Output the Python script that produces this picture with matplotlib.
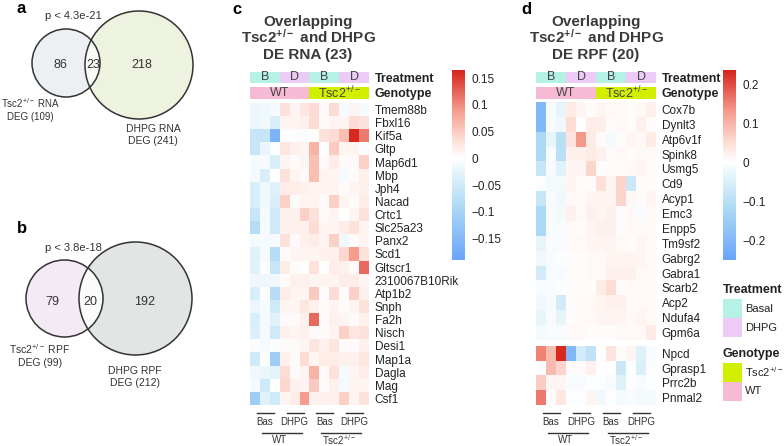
import numpy as np
import matplotlib
matplotlib.use('Agg')
import matplotlib.pyplot as plt
from matplotlib.colors import LinearSegmentedColormap, ListedColormap, Normalize
from matplotlib.patches import Circle, Rectangle

plt.rcParams['font.family'] = ['Liberation Sans', 'DejaVu Sans']
plt.rcParams['mathtext.fontset'] = 'custom'
plt.rcParams['mathtext.rm'] = 'Liberation Sans'
plt.rcParams['mathtext.it'] = 'Liberation Sans:italic'
plt.rcParams['mathtext.bf'] = 'Liberation Sans:bold'

# ---- data ----
venn_a = {'left': 86, 'both': 23, 'right': 218, 'p': 'p < 4.3e-21',
          'lab_l': 'Tsc2$^{+/-}$ RNA\nDEG (109)', 'lab_r': 'DHPG RNA\nDEG (241)'}
venn_b = {'left': 79, 'both': 20, 'right': 192, 'p': 'p < 3.8e-18',
          'lab_l': 'Tsc2$^{+/-}$ RPF\nDEG (99)', 'lab_r': 'DHPG RPF\nDEG (212)'}

genes_c = ['Tmem88b', 'Fbxl16', 'Kif5a', 'Gltp', 'Map6d1', 'Mbp', 'Jph4', 'Nacad',
           'Crtc1', 'Slc25a23', 'Panx2', 'Scd1', 'Gltscr1', '2310067B10Rik', 'Atp1b2',
           'Snph', 'Fa2h', 'Nisch', 'Desi1', 'Map1a', 'Dagla', 'Mag', 'Csf1']
rna_c = np.array([
    [-0.02, -0.015, -0.01, 0.03, 0.01, 0.025, 0.035, 0.005, 0.035, -0.01, 0.01, -0.01],
    [-0.02, -0.015, -0.04, 0.01, 0.01, 0.015, 0.035, 0.005, 0.01, 0.01, 0.035, 0.03],
    [-0.06, -0.06, -0.16, -0.005, -0.005, -0.005, 0.0, 0.03, 0.035, 0.06, 0.16, 0.11],
    [-0.06, -0.02, 0.0, 0.025, 0.015, 0.01, 0.07, 0.0, 0.05, 0.01, 0.01, -0.005],
    [-0.01, -0.01, -0.04, 0.01, 0.005, 0.01, 0.06, 0.005, 0.02, 0.005, 0.005, 0.045],
    [-0.01, -0.04, 0.0, 0.03, 0.01, 0.005, 0.06, 0.01, 0.01, -0.01, 0.005, 0.015],
    [-0.04, -0.015, -0.03, 0.02, 0.02, 0.015, 0.01, 0.01, 0.01, 0.005, 0.01, 0.015],
    [-0.04, -0.015, -0.04, 0.045, 0.005, 0.01, 0.01, 0.005, 0.045, 0.01, 0.005, 0.02],
    [-0.06, -0.01, -0.05, 0.015, 0.015, 0.045, 0.03, 0.005, 0.01, 0.0, 0.01, 0.03],
    [-0.08, -0.01, -0.05, 0.015, 0.015, 0.015, 0.035, 0.01, 0.01, 0.02, 0.03, 0.01],
    [-0.01, -0.01, -0.01, 0.03, 0.005, 0.015, 0.02, 0.01, 0.045, -0.015, 0.005, 0.01],
    [-0.03, -0.01, -0.08, 0.005, 0.01, 0.01, 0.01, 0.015, 0.015, 0.04, 0.09, 0.03],
    [-0.03, -0.005, -0.06, 0.02, 0.005, 0.0, 0.03, 0.0, 0.02, 0.015, 0.005, 0.12],
    [-0.015, -0.015, -0.015, 0.005, 0.015, 0.015, 0.01, 0.01, 0.01, 0.02, 0.02, 0.01],
    [-0.04, -0.005, -0.08, 0.02, 0.01, 0.01, 0.05, -0.005, 0.035, 0.005, 0.045, 0.015],
    [-0.02, -0.01, -0.05, 0.01, 0.01, 0.025, 0.015, 0.005, 0.01, 0.005, 0.01, 0.03],
    [-0.04, -0.01, -0.03, 0.005, 0.005, 0.015, 0.12, 0.005, 0.015, 0.01, 0.005, 0.015],
    [-0.035, -0.01, -0.05, 0.015, 0.01, 0.015, 0.005, 0.005, 0.01, 0.045, 0.025, 0.03],
    [-0.005, -0.01, -0.005, 0.005, 0.005, 0.01, 0.025, 0.015, 0.025, 0.005, 0.005, 0.015],
    [-0.05, -0.005, -0.11, 0.015, 0.005, 0.035, 0.01, 0.02, 0.02, 0.015, 0.015, 0.025],
    [-0.015, -0.02, -0.025, 0.035, 0.005, 0.01, 0.07, 0.005, 0.03, -0.01, 0.01, 0.02],
    [-0.01, -0.05, 0.0, 0.04, 0.015, 0.01, 0.05, 0.005, 0.015, -0.01, 0.01, 0.01],
    [-0.11, -0.03, -0.05, 0.01, 0.02, 0.09, 0.015, 0.015, 0.015, 0.045, 0.01, 0.03],
])

genes_d_top = ['Cox7b', 'Dynlt3', 'Atp6v1f', 'Spink8', 'Usmg5', 'Cd9', 'Acyp1', 'Emc3',
               'Enpp5', 'Tm9sf2', 'Gabrg2', 'Gabra1', 'Scarb2', 'Acp2', 'Ndufa4', 'Gpm6a']
genes_d_bot = ['Npcd', 'Gprasp1', 'Prrc2b', 'Pnmal2']
rpf_d_top = np.array([
    [-0.2, -0.01, -0.03, 0.03, 0.015, 0.005, 0.015, 0.01, 0.01, 0.005, 0.01, 0.02],
    [-0.2, -0.01, -0.02, 0.05, 0.0, 0.025, 0.025, 0.005, 0.01, 0.005, 0.02, 0.005],
    [-0.12, -0.03, -0.1, 0.04, 0.13, 0.03, 0.005, -0.015, 0.005, 0.015, 0.01, 0.03],
    [-0.12, -0.01, -0.1, 0.02, 0.02, 0.03, 0.02, 0.005, 0.01, 0.005, 0.01, 0.01],
    [-0.08, -0.01, -0.04, 0.015, 0.015, 0.06, 0.005, 0.005, 0.005, 0.01, 0.015, 0.005],
    [-0.005, -0.015, -0.015, 0.015, 0.005, 0.005, 0.045, 0.015, 0.06, -0.07, 0.005, 0.005],
    [-0.08, -0.01, -0.02, 0.01, 0.01, 0.015, 0.015, 0.015, 0.06, 0.01, 0.005, 0.015],
    [-0.12, -0.01, -0.015, 0.02, 0.01, 0.02, 0.015, 0.02, 0.005, 0.01, -0.01, 0.01],
    [-0.12, -0.01, -0.01, 0.01, 0.005, 0.015, 0.02, 0.02, 0.005, 0.01, 0.01, 0.01],
    [-0.03, -0.01, -0.01, 0.01, 0.01, 0.015, 0.015, 0.015, 0.01, 0.005, 0.015, 0.01],
    [-0.02, -0.01, -0.005, 0.005, 0.005, 0.01, 0.01, 0.015, 0.015, 0.015, 0.015, 0.01],
    [-0.06, -0.01, -0.01, 0.005, 0.005, 0.01, 0.01, 0.02, 0.02, 0.02, 0.01, 0.01],
    [-0.01, -0.01, -0.005, 0.005, 0.005, 0.005, 0.03, 0.05, 0.005, 0.01, 0.01, 0.01],
    [-0.02, -0.01, -0.06, 0.005, 0.01, 0.01, 0.015, 0.02, 0.02, 0.01, 0.01, 0.01],
    [-0.03, -0.01, -0.03, 0.005, 0.01, 0.01, 0.015, 0.015, 0.015, 0.01, 0.015, 0.01],
    [-0.015, -0.01, -0.01, 0.01, 0.01, 0.005, 0.005, 0.005, 0.01, 0.01, 0.01, 0.03],
])
rpf_d_bot = np.array([
    [0.15, 0.09, 0.23, -0.2, -0.06, -0.09, 0.0, 0.04, 0.005, 0.015, -0.04, -0.01],
    [0.0, 0.09, 0.06, 0.005, 0.005, 0.02, 0.0, 0.0, -0.07, -0.005, -0.05, -0.005],
    [0.07, 0.015, 0.015, -0.01, -0.01, -0.005, -0.005, -0.01, -0.04, -0.005, -0.01, -0.005],
    [0.16, 0.005, 0.035, -0.005, -0.005, 0.015, -0.02, -0.005, -0.015, -0.01, -0.015, -0.015],
])

treat_idx = [0, 0, 0, 1, 1, 1, 0, 0, 0, 1, 1, 1]   # 0 Basal, 1 DHPG
geno_idx = [1, 1, 1, 1, 1, 1, 0, 0, 0, 0, 0, 0]    # 0 Tsc2, 1 WT
treat_letters = ['B', 'D', 'B', 'D']
treat_names = ['Basal', 'DHPG']
geno_names = ['Tsc2$^{+/-}$', 'WT']
c_ticks = [-0.15, -0.1, -0.05, 0, 0.05, 0.1, 0.15]
d_ticks = [-0.2, -0.1, 0, 0.1, 0.2]

col_basal, col_dhpg = '#b6f1e6', '#ecccf6'
col_tsc2, col_wt = '#d2ef00', '#f7bad4'
dark = '#333333'
txt = '#222222'

W, H = 784, 446
fig = plt.figure(figsize=(7.84, 4.46), dpi=100)


def box(x0, y0, x1, y1):
    return [x0 / W, 1 - y1 / H, (x1 - x0) / W, (y1 - y0) / H]


def make_cmap(vmin, vmax):
    mid = -vmin / (vmax - vmin)
    stops = [(0, '#6aa4fb'), (mid * 0.5, '#a9d7f4'), (mid * 0.85, '#e2f3fa'), (mid, '#ffffff'),
             (mid + (1 - mid) * 0.2, '#fde0d8'), (mid + (1 - mid) * 0.55, '#f59b8c'),
             (1, '#d6231a')]
    return LinearSegmentedColormap.from_list('bwr_', stops)


ov = fig.add_axes([0, 0, 1, 1])
ov.set_xlim(0, W)
ov.set_ylim(H, 0)
ov.axis('off')


# ---- venn ----
def venn(cl, rl, cr, rr, fl, fr, fi):
    ov.add_patch(Circle(cl, rl, facecolor=fl, edgecolor='none'))
    c2 = Circle(cr, rr, facecolor=fr, edgecolor='none')
    ov.add_patch(c2)
    ci = Circle(cl, rl, facecolor=fi, edgecolor='none')
    ov.add_patch(ci)
    ci.set_clip_path(c2)
    ov.add_patch(Circle(cl, rl, facecolor='none', edgecolor=dark, lw=1.1))
    ov.add_patch(Circle(cr, rr, facecolor='none', edgecolor=dark, lw=1.1))


venn((66, 63), 34, (139, 65), 54, '#edf0f2', '#eef3e0', '#f9faf7')
ov.text(60, 65, str(venn_a['left']), ha='center', va='center', fontsize=9, color=dark)
ov.text(93.5, 65, str(venn_a['both']), ha='center', va='center', fontsize=9, color=dark)
ov.text(142, 65, str(venn_a['right']), ha='center', va='center', fontsize=9, color=dark)
ov.text(73, 16, venn_a['p'], ha='center', va='center', fontsize=8, color=dark)
ov.text(30, 109, venn_a['lab_l'], ha='center', va='center', fontsize=7, color=dark, linespacing=1.35)
ov.text(153, 135, venn_a['lab_r'], ha='center', va='center', fontsize=7.5, color=dark, linespacing=1.3)
ov.text(17, 13, 'a', fontsize=12, fontweight='bold', va='baseline')

venn((64.5, 298.5), 38.5, (135.5, 298.5), 56.5, '#f4eaf6', '#e1e5e3', '#fbfbfb')
ov.text(52.5, 302, str(venn_b['left']), ha='center', va='center', fontsize=9, color=dark)
ov.text(90, 302, str(venn_b['both']), ha='center', va='center', fontsize=9, color=dark)
ov.text(145, 302, str(venn_b['right']), ha='center', va='center', fontsize=9, color=dark)
ov.text(73, 248, venn_b['p'], ha='center', va='center', fontsize=8, color=dark)
ov.text(40, 355, venn_b['lab_l'], ha='center', va='center', fontsize=7.5, color=dark, linespacing=1.3)
ov.text(135, 377, venn_b['lab_r'], ha='center', va='center', fontsize=7.5, color=dark, linespacing=1.3)
ov.text(17, 233, 'b', fontsize=12, fontweight='bold', va='baseline')


# ---- heatmap panels ----
def annot_bars(x0, x1):
    a1 = fig.add_axes(box(x0, 72, x1, 83))
    a1.imshow([treat_idx], cmap=ListedColormap([col_basal, col_dhpg]), aspect='auto', vmin=0, vmax=1)
    for k, t in enumerate(treat_letters):
        a1.text(3 * k + 1, 0, t, ha='center', va='center', fontsize=9, color='#444444')
    a2 = fig.add_axes(box(x0, 87, x1, 99))
    a2.imshow([geno_idx], cmap=ListedColormap([col_tsc2, col_wt]), aspect='auto', vmin=0, vmax=1)
    a2.text(2.5, 0, 'WT', ha='center', va='center', fontsize=9, color='#444444')
    a2.text(8.5, 0, 'Tsc2$^{+/-}$', ha='center', va='center', fontsize=9, color='#444444')
    for a, lab in ((a1, 'Treatment'), (a2, 'Genotype')):
        a.set_xticks([])
        a.yaxis.tick_right()
        a.set_yticks([0])
        a.set_yticklabels([lab], fontsize=9, fontweight='bold', color=txt)
        a.tick_params(length=0, pad=4)
        for s in a.spines.values():
            s.set_visible(False)


def heat(bx, data, genes, cmap, norm):
    ax = fig.add_axes(box(*bx))
    im = ax.imshow(data, cmap=cmap, norm=norm, aspect='auto', interpolation='nearest')
    ax.set_xticks([])
    ax.yaxis.tick_right()
    ax.set_yticks(range(len(genes)))
    ax.set_yticklabels(genes, fontsize=8.5, color=txt)
    ax.tick_params(length=0, pad=4)
    for s in ax.spines.values():
        s.set_visible(False)
    return im


def groups(x0, x1):
    ax = fig.add_axes(box(x0, 406, x1, H))
    ax.set_xlim(-0.5, 11.5)
    ax.set_ylim(H, 406)
    ax.axis('off')
    for k, t in enumerate(['Bas', 'DHPG', 'Bas', 'DHPG']):
        ax.plot([3 * k + 0.2, 3 * k + 1.9], [413, 413], color=dark, lw=1, clip_on=False)
        ax.text(3 * k + 1, 422, t, ha='center', va='center', fontsize=7, color=dark)
    for k, t in enumerate(['WT', 'Tsc2$^{+/-}$']):
        ax.plot([6 * k + 0.7, 6 * k + 4.7], [433, 433], color=dark, lw=1, clip_on=False)
        ax.text(6 * k + 2.5, 440, t, ha='center', va='center', fontsize=7, color=dark)


def cbar(im, bx, ticks):
    cax = fig.add_axes(box(*bx))
    cb = fig.colorbar(im, cax=cax, ticks=ticks)
    cb.outline.set_visible(False)
    cb.set_ticklabels([('\u2212%g' % -t) if t < 0 else '%g' % t for t in ticks])
    cax.tick_params(length=0, labelsize=8.5, pad=5, labelcolor=txt)


# panel c
norm_c = Normalize(-0.19, 0.165)
cm_c = make_cmap(-0.19, 0.165)
annot_bars(250, 369)
im_c = heat((250, 103, 369, 405), rna_c, genes_c, cm_c, norm_c)
groups(250, 369)
cbar(im_c, (452, 70, 465, 260), c_ticks)
ov.text(232, 14, 'c', fontsize=12, fontweight='bold', va='baseline')
for y, s in zip([26, 43, 59], ['Overlapping', r'Tsc2$^{\mathbf{+/-}}$ and DHPG', 'DE RNA (23)']):
    ov.text(308, y, s, ha='center', va='baseline', fontsize=11, fontweight='bold', color='#3a3a3a')

# panel d
norm_d = Normalize(-0.25, 0.236)
cm_d = make_cmap(-0.25, 0.236)
annot_bars(536, 656)
im_d = heat((536, 102, 656, 340), rpf_d_top, genes_d_top, cm_d, norm_d)
heat((536, 346, 656, 405), rpf_d_bot, genes_d_bot, cm_d, norm_d)
groups(536, 656)
cbar(im_d, (723, 70, 736, 260), d_ticks)
ov.text(521, 14, 'd', fontsize=12, fontweight='bold', va='baseline')
for y, s in zip([26, 43, 59], ['Overlapping', r'Tsc2$^{\mathbf{+/-}}$ and DHPG', 'DE RPF (20)']):
    ov.text(596, y, s, ha='center', va='baseline', fontsize=11, fontweight='bold', color='#3a3a3a')

# legend
ov.text(723, 290, 'Treatment', fontsize=9, fontweight='bold', va='center', color=txt)
for k, (nm, colr) in enumerate(zip(treat_names, [col_basal, col_dhpg])):
    ov.add_patch(Rectangle((723, 299 + 19 * k), 19, 19, facecolor=colr, edgecolor='none'))
    ov.text(745, 309 + 19 * k, nm, fontsize=8, va='center', color=txt)
ov.text(723, 354, 'Genotype', fontsize=9, fontweight='bold', va='center', color=txt)
for k, (nm, colr) in enumerate(zip(geno_names, [col_tsc2, col_wt])):
    ov.add_patch(Rectangle((723, 363 + 19 * k), 19, 19, facecolor=colr, edgecolor='none'))
    ov.text(745, 372.5 + 19 * k, nm, fontsize=8, va='center', color=txt)

fig.savefig('out.png', dpi=100)
